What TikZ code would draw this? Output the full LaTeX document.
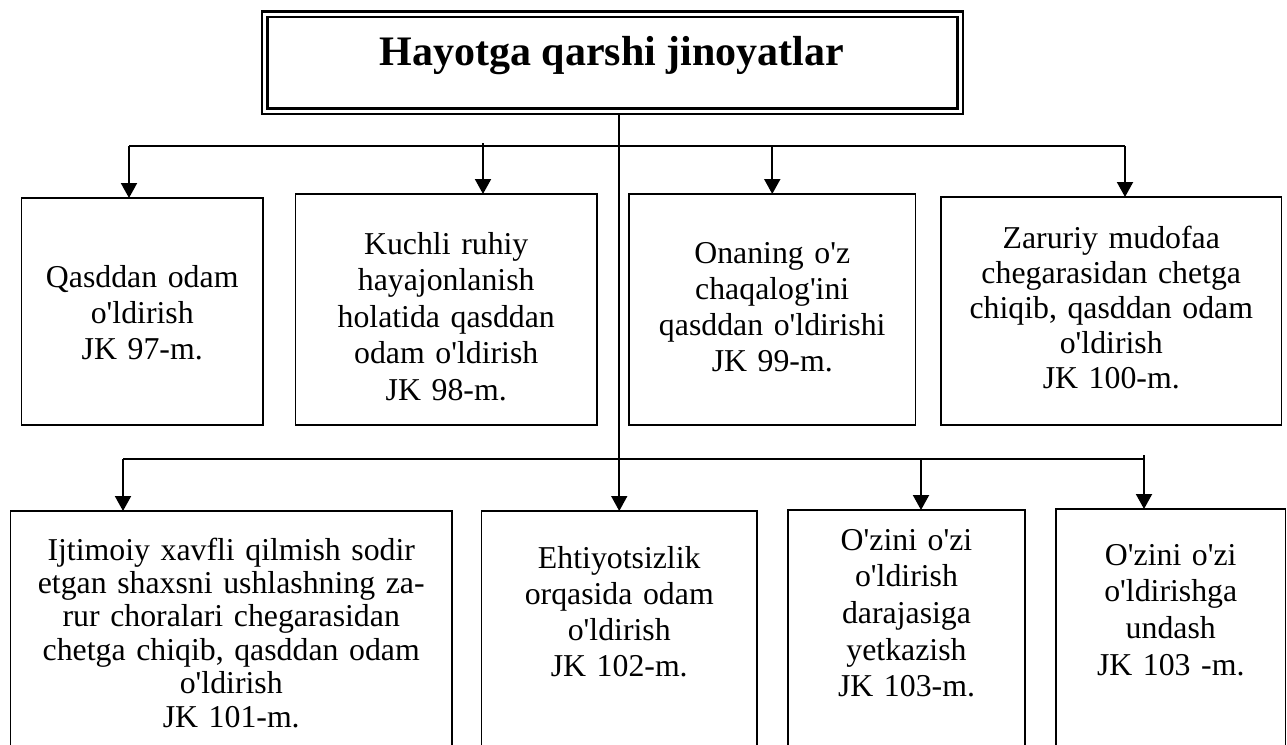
\documentclass[tikz,border=0pt]{standalone}
\usepackage{fontspec}
\setmainfont{Liberation Serif}
\usetikzlibrary{arrows.meta}
\newcommand\apo{\textquotesingle}
\begin{document}
\begin{tikzpicture}[x=1pt,y=-1pt,
  box/.style={draw, line width=1.8pt, inner sep=0pt, outer sep=0pt},
  txt/.style={anchor=base, align=center, inner sep=0pt},
  bus/.style={line width=2pt},
  arr/.style={line width=2pt, -{Triangle[width=16pt,length=15pt]}},
  stemline/.style={line width=1.6pt, -{Triangle[width=16pt,length=15pt]}},
]
\useasboundingbox (0,0) rectangle (1287,744);
% title
\node[draw, double, line width=2.5pt, double distance=3pt, minimum width=695.5pt, minimum height=97pt, inner sep=0pt, outer sep=0pt] (title) at (612.25,62.5) {};
\node[anchor=base, inner sep=0pt, font=\fontsize{42}{50}\selectfont\bfseries] (ttl) at (612,65) {Hayotga qarshi jinoyatlar};
% row 1 boxes
\node[box, minimum width=241.5pt, minimum height=227pt] (b1) at (142.25,311.5) {};
\node[box, minimum width=301.5pt, minimum height=231pt] (b2) at (446.25,309.5) {};
\node[box, minimum width=286.5pt, minimum height=231pt] (b3) at (772.25,309.5) {};
\node[box, minimum width=340.5pt, minimum height=228pt] (b4) at (1111.25,311) {};
% row 2 boxes
\node[box, minimum width=441.5pt, minimum height=241pt] (b5) at (231.25,631.5) {};
\node[box, minimum width=275.5pt, minimum height=241pt] (b6) at (619.25,631.5) {};
\node[box, minimum width=237pt, minimum height=242pt] (b7) at (906.5,631) {};
\node[box, minimum width=229.5pt, minimum height=243pt] (b8) at (1170.75,630.5) {};
% texts
\node[txt, text width=230pt, font=\fontsize{31.8}{36}\selectfont] (t1) at (142.25,287) {Qasddan odam\\o\apo ldirish\\JK 97-m.};
\node[txt, text width=290pt, font=\fontsize{31.8}{36.5}\selectfont] (t2) at (446.25,254) {Kuchli ruhiy\\hayajonlanish\\holatida qasddan\\odam o\apo ldirish\\JK 98-m.};
\node[txt, text width=280pt, font=\fontsize{31.8}{36}\selectfont] (t3) at (772.25,263) {Onaning o\apo z\\chaqalog\apo ini\\qasddan o\apo ldirishi\\JK 99-m.};
\node[txt, text width=330pt, font=\fontsize{31.8}{35}\selectfont] (t4) at (1111.25,248) {Zaruriy mudofaa\\chegarasidan chetga\\chiqib, qasddan odam\\o\apo ldirish\\JK 100-m.};
\node[txt, text width=430pt, font=\fontsize{31.8}{33.4}\selectfont] (t5) at (231.25,560) {Ijtimoiy xavfli qilmish sodir\\etgan shaxsni ushlashning za-\\rur choralari chegarasidan\\chetga chiqib, qasddan odam\\o\apo ldirish\\JK 101-m.};
\node[txt, text width=265pt, font=\fontsize{31.8}{36}\selectfont] (t6) at (619.25,568) {Ehtiyotsizlik\\orqasida odam\\o\apo ldirish\\JK 102-m.};
\node[txt, text width=230pt, font=\fontsize{31.8}{36.7}\selectfont] (t7) at (906.5,550) {O\apo zini o\apo zi\\o\apo ldirish\\darajasiga\\yetkazish\\JK 103-m.};
\node[txt, text width=222pt, font=\fontsize{31.8}{36.7}\selectfont] (t8) at (1170.75,565) {O\apo zini o\apo zi\\o\apo ldirishga\\undash\\JK 103 -m.};
% connectors row 1
\coordinate (r1L) at (129,146);
\coordinate (r1R) at (1125,146);
\coordinate (a2) at (483,143);
\draw[bus] (r1L) -- (r1R);
\draw[arr] (r1L) -- (r1L |- b1.north);
\draw[arr] (a2) -- (a2 |- b2.north);
\draw[arr] (b3.north |- r1L) -- (b3.north);
\draw[arr] (r1R) -- (r1R |- b4.north);
% stem
\draw[stemline] ([yshift=-4pt]title.south -| b6.north) -- (b6.north);
% connectors row 2
\coordinate (r2L) at (123,459);
\coordinate (r2R) at (1144,459);
\coordinate (a7) at (921,459);
\coordinate (a8) at (1144,455);
\draw[bus] (r2L) -- (r2R);
\draw[arr] (r2L) -- (r2L |- b5.north);
\draw[arr] (a7) -- (a7 |- b7.north);
\draw[arr] (a8) -- (a8 |- b8.north);
\end{tikzpicture}
\end{document}
